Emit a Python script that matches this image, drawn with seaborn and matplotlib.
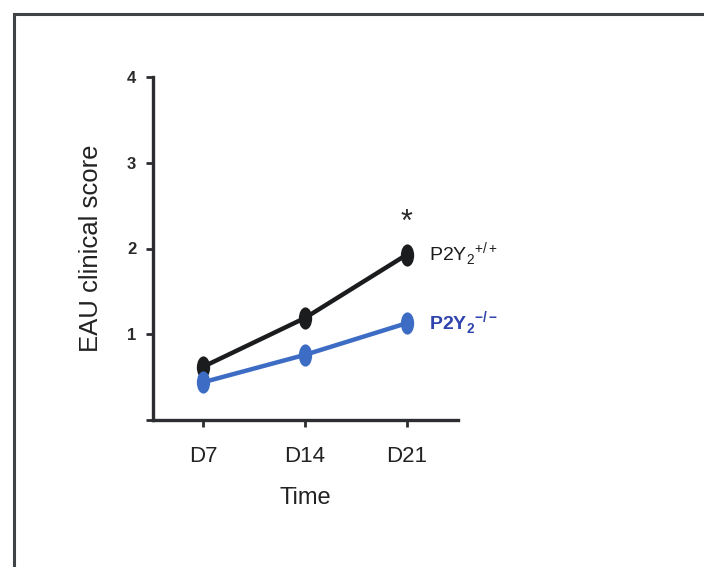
import pandas as pd
import matplotlib
matplotlib.use("Agg")
import matplotlib.pyplot as plt
import seaborn as sns
from matplotlib.path import Path
from matplotlib.transforms import Affine2D
from matplotlib.patches import Rectangle

# Données
days = ["D7", "D14", "D21"]
wt_scores = [0.62, 1.19, 1.93]
ko_scores = [0.44, 0.76, 1.13]
groups = ["wt", "ko"]

df = pd.DataFrame({
    "Time": days * 2,
    "score": wt_scores + ko_scores,
    "group": [groups[0]] * 3 + [groups[1]] * 3,
})

sns.set_style("white")
plt.rcParams["font.family"] = ["Liberation Sans", "DejaVu Sans"]
plt.rcParams["mathtext.fontset"] = "custom"
plt.rcParams["mathtext.rm"] = "Liberation Sans"
plt.rcParams["mathtext.bf"] = "Liberation Sans:bold"

fig = plt.figure(figsize=(7.04, 5.67), dpi=100)
ax = fig.add_axes([153 / 704, 1 - 420 / 567, 305 / 704, 343 / 567])

# cadre extérieur (bords gauche et haut seulement visibles)
fig.patches.append(Rectangle((14 / 704, -0.1), 1.2, 1.1 - 14 / 567,
                             transform=fig.transFigure, fill=False,
                             edgecolor="#3f4247", lw=2.2, zorder=0))

ellipse = Path.unit_circle().transformed(Affine2D().scale(0.6, 1.0))
palette = {"wt": "#1b1c1e", "ko": "#3c6cc4"}

sns.lineplot(data=df, x="Time", y="score", hue="group", palette=palette,
             marker=ellipse, markersize=16, markeredgewidth=0, linewidth=3.2,
             sort=False, legend=False, ax=ax)

ax.set_xlim(-0.49, 2.5)
ax.set_ylim(0, 4)
ax.set_yticks([0, 1, 2, 3, 4])
ax.set_yticklabels(["", "1", "2", "3", "4"])
for s in ["top", "right"]:
    ax.spines[s].set_visible(False)
for s in ["left", "bottom"]:
    ax.spines[s].set_color("#2b2d30")
    ax.spines[s].set_linewidth(2.4)
ax.tick_params(axis="both", direction="out", length=5, width=2,
               color="#2b2d30", left=True, bottom=True)
ax.tick_params(axis="y", labelsize=12, pad=7)
ax.tick_params(axis="x", labelsize=16, pad=14)
for t in ax.get_yticklabels():
    t.set_fontweight("bold")
    t.set_color("#2b2b2b")
for t in ax.get_xticklabels():
    t.set_color("#222222")

ax.set_xlabel("Time", fontsize=17, color="#222222", labelpad=14)
ax.set_ylabel("EAU clinical score", fontsize=18.5, color="#222222", labelpad=17)

ax.text(2, wt_scores[2] + 0.37, "*", ha="center", va="center",
        fontsize=22, color="#2b2b2b")
ax.text(2.22, wt_scores[2], r"P2Y$_{2}$$^{+/+}$", ha="left", va="center",
        fontsize=14, color="#1b1c1e")
ax.text(2.22, ko_scores[2], r"P2Y$_{\mathbf{2}}$$^{\mathbf{-/-}}$", ha="left",
        va="center", fontsize=14, color="#2f44ad", fontweight="bold")

fig.savefig("out.png", dpi=100)
